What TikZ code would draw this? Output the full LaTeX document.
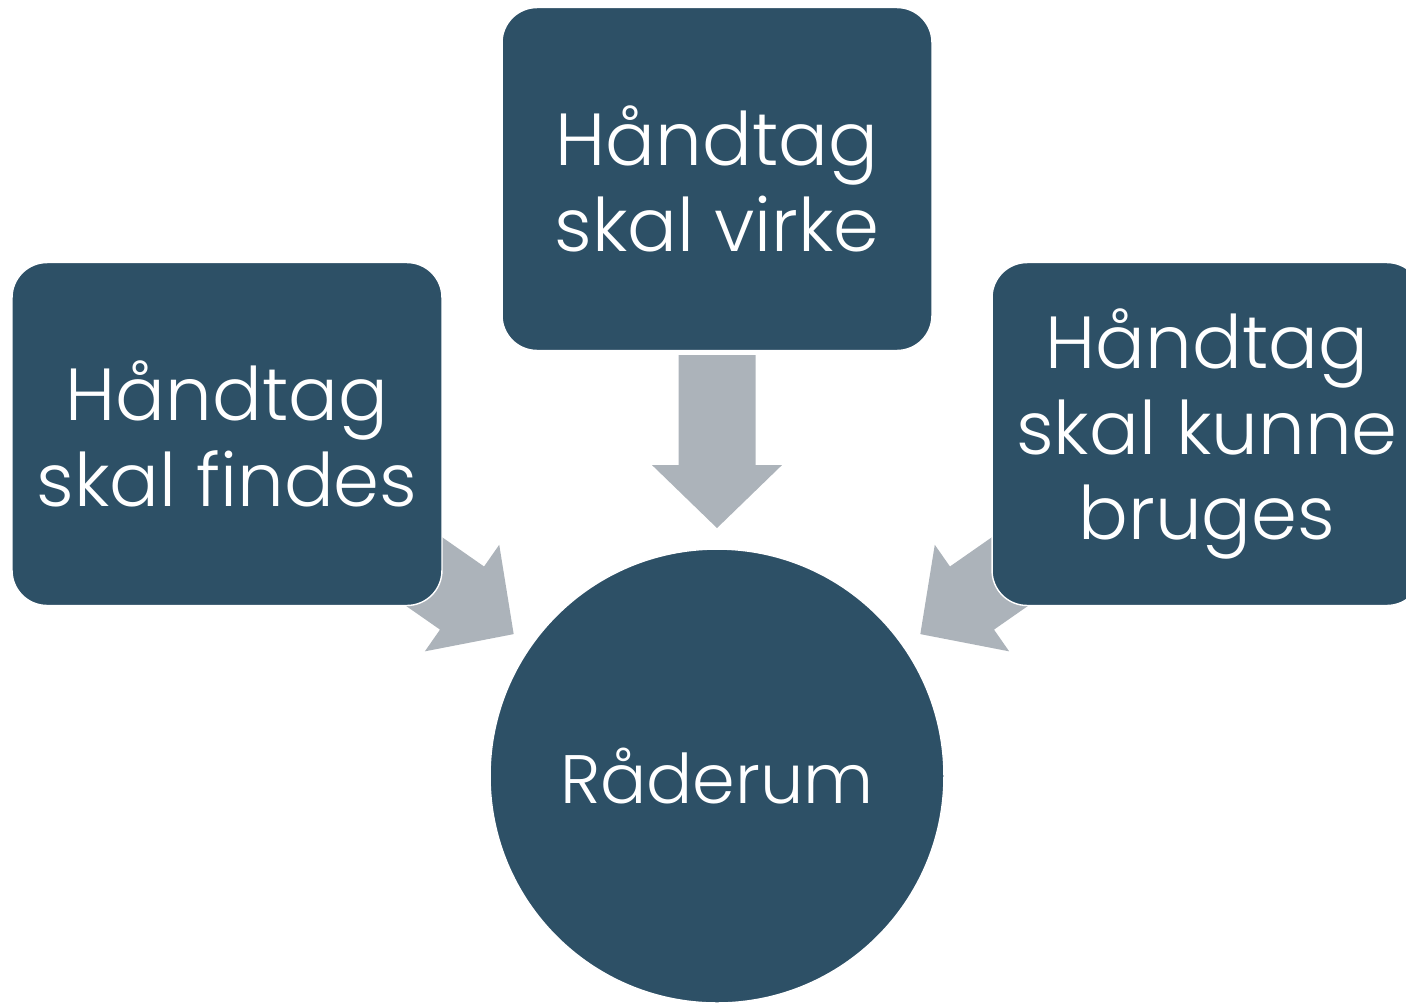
\documentclass[tikz,border=0pt]{standalone}
\usepackage{fontspec}
\setmainfont{Poppins}[UprightFont=* Light]
\usetikzlibrary{calc,backgrounds}
\definecolor{boxblue}{HTML}{2D5066}
\definecolor{arrowgray}{HTML}{ACB3BA}
\tikzset{
  box/.style={rounded corners=0.7cm, fill=boxblue, draw=white, line width=0.8pt,
    minimum width=8.6cm, minimum height=6.86cm, inner sep=0pt,
    text=white, align=center, font=\fontsize{42}{48.5}\selectfont},
  hub/.style={circle, fill=boxblue, draw=white, line width=0.8pt, minimum size=9.08cm,
    inner sep=0pt, text=white, font=\fontsize{39}{47}\selectfont},
  arrowfill/.style={fill=arrowgray}
}
% block arrow from the source node #1 pointing at the hub #2
\newcommand{\flowarrow}[2]{%
  \path ($(#2.center)!4.96cm!(#1.center)$) coordinate (tip)
        ($(#2.center)!6.22cm!(#1.center)$) coordinate (neck)
        ($(#2.center)!8.42cm!(#1.center)$) coordinate (tail);
  \fill[arrowfill] (tip) -- ($(neck)!1.3cm!90:(tail)$) -- ($(neck)!0.77cm!90:(tail)$)
    -- ($(tail)!0.77cm!-90:(neck)$) -- ($(tail)!0.77cm!90:(neck)$)
    -- ($(neck)!0.77cm!-90:(tail)$) -- ($(neck)!1.3cm!-90:(tail)$) -- cycle;
}
\begin{document}
\begin{tikzpicture}[x=0.02cm, y=-0.02cm]
  \useasboundingbox (0,0) rectangle (1406,1002);
  \clip (0,0) rectangle (1406,1002);
  \node[box] (top)   at (717,179) {Håndtag\\skal virke};
  \node[box] (left)  at (227,434) {Håndtag\\skal findes};
  \node[box] (right) at (1207,434) {Håndtag\\skal kunne\\bruges};
  \node[hub] (hub)   at (717,776) {Råderum};
  \begin{scope}[on background layer]
    \flowarrow{top}{hub}
    \flowarrow{left}{hub}
    \flowarrow{right}{hub}
  \end{scope}
\end{tikzpicture}
\end{document}
